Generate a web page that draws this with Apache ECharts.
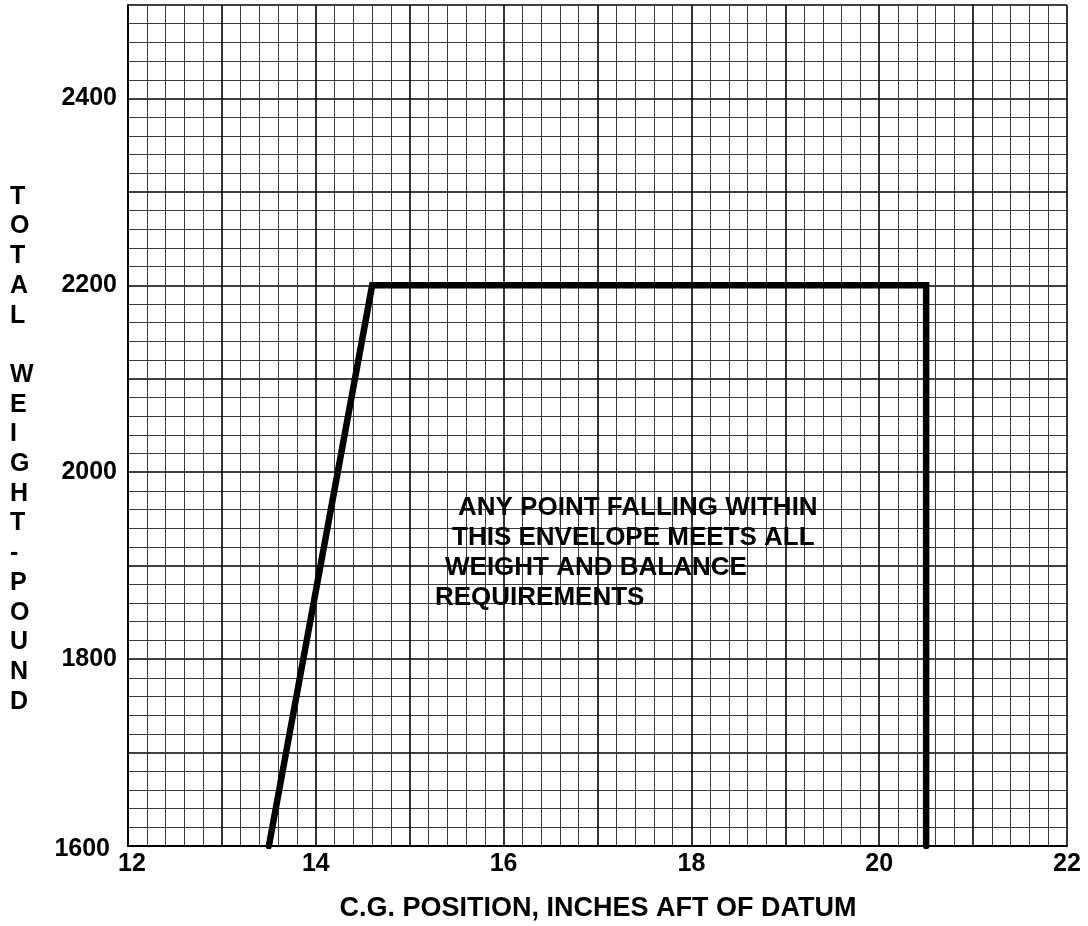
<!DOCTYPE html>
<html>
<head>
<meta charset="utf-8">
<script src="https://cdn.jsdelivr.net/npm/echarts@6/dist/echarts.min.js"></script>
<style>
html,body{margin:0;padding:0;background:#fff;}
#chart{width:1088px;height:926px;}
</style>
</head>
<body>
<div id="chart"></div>
<script>
// ---- data ----
var envelopeX = [13.5, 14.6, 20.5, 20.5];
var envelopeY = [1600, 2200, 2200, 1600];
var xTickLabels = ['12', '14', '16', '18', '20', '22'];
var yTickLabels = ['1600', '1800', '2000', '2200', '2400'];
var xAxisTitle = 'C.G. POSITION, INCHES AFT OF DATUM';
var yAxisTitle = ['T','O','T','A','L','','W','E','I','G','H','T','-','P','O','U','N','D'];
var noteLines = ['ANY POINT FALLING WITHIN', 'THIS ENVELOPE MEETS ALL', 'WEIGHT AND BALANCE', 'REQUIREMENTS'];

var FONT = '"Liberation Sans", Arial, sans-serif';
var chart = echarts.init(document.getElementById('chart'), null, {renderer: 'canvas'});

var envelopeData = envelopeX.map(function (x, i) { return [x, envelopeY[i]]; });

var noteLeft = [458, 452, 445, 435];
var noteGraphics = noteLines.map(function (t, i) {
  return {
    type: 'text', left: noteLeft[i], top: 495 + i * 30, z: 10,
    style: {text: t, font: 'bold 26px ' + FONT, fill: '#000'}
  };
});

chart.setOption({
  animation: false,
  backgroundColor: '#fff',
  grid: {left: 128, right: 21, top: 5, bottom: 80, containLabel: false},
  xAxis: {
    type: 'value', min: 12, max: 22, interval: 1,
    axisLine: {show: true, onZero: false, lineStyle: {color: '#000', width: 2}},
    axisTick: {show: false},
    minorTick: {show: false, splitNumber: 5},
    splitLine: {show: true, lineStyle: {color: '#000', width: 1.6}},
    minorSplitLine: {show: true, lineStyle: {color: '#3a3a3a', width: 1}},
    axisLabel: {
      margin: 6, color: '#000', fontFamily: FONT, fontWeight: 'bold', fontSize: 25,
      formatter: function (v) {
        var s = String(Math.round(v));
        if (xTickLabels.indexOf(s) < 0) return '';
        return s === xTickLabels[0] ? '{first|' + s + '}' : s;
      },
      rich: {first: {fontFamily: FONT, fontWeight: 'bold', fontSize: 25, color: '#000', padding: [0, 0, 0, 8]}}
    }
  },
  yAxis: {
    type: 'value', min: 1600, max: 2500, interval: 100,
    axisLine: {show: true, onZero: false, lineStyle: {color: '#000', width: 2}},
    axisTick: {show: false},
    minorTick: {show: false, splitNumber: 5},
    splitLine: {show: true, lineStyle: {color: '#000', width: 1.6}},
    minorSplitLine: {show: true, lineStyle: {color: '#3a3a3a', width: 1}},
    axisLabel: {
      margin: 11, color: '#000', fontFamily: FONT, fontWeight: 'bold', fontSize: 25,
      formatter: function (v) {
        var s = String(Math.round(v));
        if (yTickLabels.indexOf(s) < 0) return '';
        return s === yTickLabels[0] ? '{first|' + s + '}' : s;
      },
      rich: {first: {fontFamily: FONT, fontWeight: 'bold', fontSize: 25, color: '#000', padding: [6, 7, 0, 0]}}
    }
  },
  graphic: [
    {
      type: 'text', x: 598, y: 895,
      style: {text: xAxisTitle, font: 'bold 27px ' + FONT, fill: '#000', align: 'center'}
    },
    {
      type: 'text', left: 10, top: 182,
      style: {text: yAxisTitle.join('\n'), font: 'bold 25px ' + FONT, fill: '#000',
              lineHeight: 29.7, align: 'center', width: 22}
    }
  ].concat(noteGraphics),
  series: [{
    type: 'line', data: envelopeData, showSymbol: false, symbol: 'none',
    lineStyle: {color: '#000', width: 6.5, join: 'miter', cap: 'round'},
    z: 5, silent: true
  }]
});
</script>
</body>
</html>
